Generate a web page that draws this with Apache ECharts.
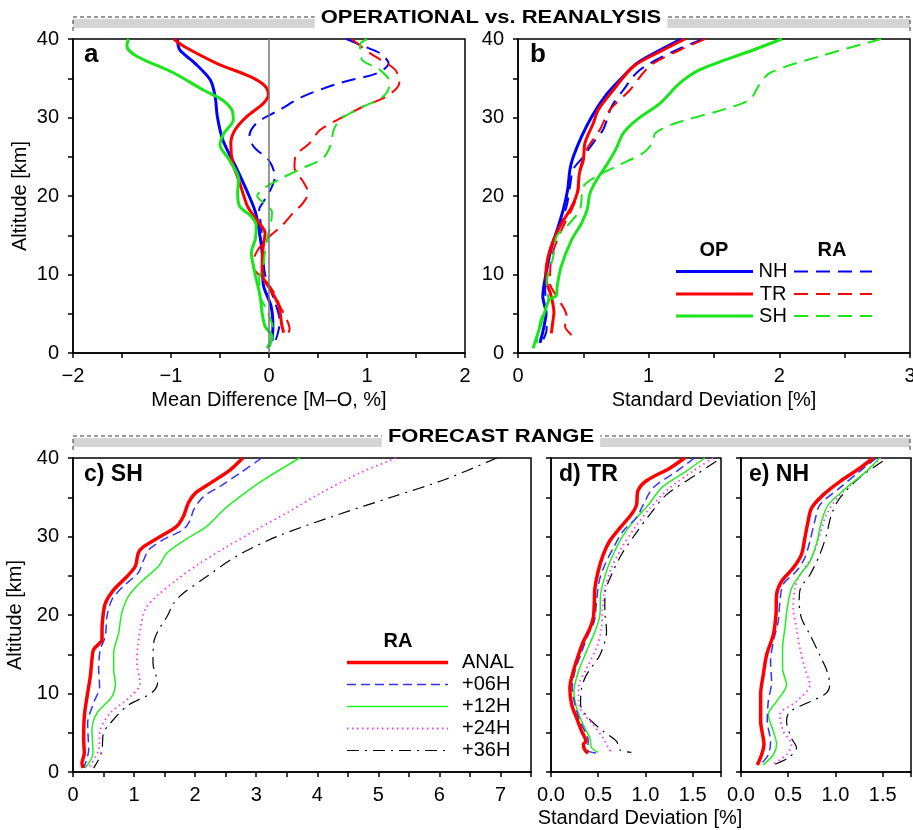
<!DOCTYPE html>
<html>
<head>
<meta charset="utf-8">
<script src="https://cdn.jsdelivr.net/npm/echarts@6/dist/echarts.min.js"></script>
<style>
html, body { margin: 0; padding: 0; background: #fff; }
#chart { width: 913px; height: 830px; }
</style>
</head>
<body>
<div id="chart"></div>
<script>
// each point is [value, altitude km]

// a) mean difference, operational (solid)
var mdOpNH = [[-0.935,40],[-0.91,38.6],[-0.755,36.9],[-0.6,34.8],[-0.55,32.7],[-0.527,30.1],[-0.47,27.1],[-0.33,23.5],[-0.22,20.5],[-0.14,18.0],[-0.1,15.5],[-0.07,12.8],[-0.065,10.2],[-0.055,8.5],[0.02,6],[0.04,3.4],[0.03,1.5]];
var mdOpTR = [[-0.97,40],[-0.874,39.1],[-0.534,36.9],[-0.19,35.2],[-0.04,34],[-0.007,32.9],[-0.058,31.8],[-0.228,30.1],[-0.347,28.4],[-0.39,26.7],[-0.37,24.2],[-0.3,21.7],[-0.22,18.7],[-0.13,17],[-0.04,15.3],[-0.06,13.5],[-0.07,11],[-0.06,9.6],[0.02,8],[0.1,6],[0.13,3.6],[0.15,2.6]];
var mdOpSH = [[-1.435,40],[-1.45,39.1],[-1.35,37.8],[-0.976,35.7],[-0.67,33.5],[-0.483,32.3],[-0.38,31],[-0.364,29.7],[-0.46,28],[-0.5,26.5],[-0.41,24.7],[-0.31,22.1],[-0.32,20.4],[-0.3,18.7],[-0.18,17.4],[-0.13,16.2],[-0.14,14.5],[-0.18,12.8],[-0.16,11.1],[-0.13,9.4],[-0.09,7.2],[-0.07,5.1],[-0.04,3.4],[0.03,2.1],[-0.02,0.6]];
// a) mean difference, reanalysis (dashed)
var mdRaNH = [[0.79,40],[0.96,39.1],[1.13,38.2],[1.22,36.9],[1.115,35.7],[0.725,34.4],[0.35,32.7],[0.112,31],[-0.126,29.3],[-0.2,27.6],[-0.15,26.2],[0.0,24.5],[0.06,22.5],[0.02,20.9],[-0.06,19.2],[-0.1,18.3],[-0.08,16],[-0.06,13],[-0.04,10],[0.06,6.5],[0.11,4],[0.09,2.5],[0.05,1]];
var mdRaTR = [[0.844,40],[1.03,38.2],[1.286,36.1],[1.33,34.4],[1.2,32.7],[0.963,31.4],[0.76,30.1],[0.52,28.4],[0.42,26.8],[0.27,25],[0.26,23.6],[0.35,21.8],[0.4,20.4],[0.34,19],[0.25,17.9],[0.13,16.2],[0.0,14.8],[-0.1,13.4],[-0.16,11.7],[-0.15,10.6],[-0.04,9.3],[0.06,7.5],[0.11,6],[0.18,4.3],[0.21,3.1],[0.2,2.6]];
var mdRaSH = [[1.0,40],[0.93,39.3],[0.946,37.4],[1.13,36.1],[1.235,34.4],[1.167,32.7],[0.894,31],[0.724,29.7],[0.66,28.4],[0.63,26.5],[0.55,24.8],[0.35,23.6],[0.12,22.2],[-0.06,20.9],[-0.12,20],[-0.04,19],[0.03,18],[0.02,16.5],[-0.01,15],[-0.04,13],[-0.06,11],[-0.1,9.5],[-0.1,7.6],[-0.02,5.4],[0.04,3],[0.01,0.8]];

// b) standard deviation, operational (solid)
var sdOpNH = [[1.25,40],[1.087,38.6],[0.908,36.9],[0.78,34.8],[0.666,32.7],[0.564,30.1],[0.487,27.6],[0.423,25],[0.398,23.4],[0.38,20.8],[0.347,18.3],[0.3,15.7],[0.258,13.6],[0.22,10.6],[0.19,7.2],[0.214,5.1],[0.194,3],[0.168,1.3]];
var sdOpTR = [[1.278,40],[1.112,38.6],[0.883,36.5],[0.73,33.5],[0.615,31],[0.577,29.3],[0.513,26.8],[0.5,24.6],[0.47,22.9],[0.455,20.5],[0.41,18.6],[0.32,16.1],[0.25,13.4],[0.215,10.5],[0.22,8.9],[0.25,7.5],[0.275,5.2],[0.265,3.8],[0.255,2.5]];
var sdOpSH = [[2.02,40],[1.8,38.6],[1.393,36.1],[1.24,34.4],[1.087,31.8],[0.908,29.7],[0.806,28],[0.75,26],[0.68,24],[0.6,22],[0.55,20.3],[0.53,18.3],[0.485,16.5],[0.41,14.4],[0.33,11],[0.3,8.5],[0.293,7.3],[0.24,6.8],[0.2,5],[0.16,2.9],[0.115,0.6]];
// b) standard deviation, reanalysis (dashed)
var sdRaNH = [[1.418,40],[1.214,38.6],[1.01,36.9],[0.908,35.7],[0.806,33.5],[0.717,31.4],[0.653,28.5],[0.577,26.8],[0.5,25],[0.423,23.4],[0.398,21.2],[0.372,18.7],[0.309,15.7],[0.232,12.3],[0.207,8.9],[0.214,5.5],[0.219,3],[0.181,1.3]];
var sdRaTR = [[1.43,40],[1.24,38.6],[1.036,36.9],[0.959,35.7],[0.857,33.5],[0.704,31],[0.628,28.5],[0.525,25.9],[0.474,23.4],[0.462,20.8],[0.423,18.7],[0.334,15.7],[0.258,12.3],[0.245,8.9],[0.296,7.2],[0.372,4.7],[0.36,3.4],[0.41,2.3]];
var sdRaSH = [[2.78,40],[2.31,37.8],[1.93,35.7],[1.84,34],[1.776,32.3],[1.57,31],[1.21,29.3],[1.05,28],[1.03,26.8],[0.96,25.5],[0.755,23.8],[0.6,22.5],[0.5,21.2],[0.474,18.3],[0.372,16.1],[0.296,14.9],[0.27,12.3],[0.22,8.9],[0.232,6.8],[0.173,4.2],[0.143,1.3]];

// c) SH forecast range
var shAnal = [[2.78,40],[2.575,38.5],[2.25,36.8],[2.0,35.5],[1.89,34.3],[1.81,32.6],[1.7,31.3],[1.43,30],[1.157,28.7],[1.07,27.9],[1.02,26.2],[0.884,24.9],[0.666,23.2],[0.53,21.5],[0.49,19.8],[0.475,18.1],[0.475,16.9],[0.338,15.6],[0.31,14.3],[0.284,12.2],[0.23,9.6],[0.185,7.1],[0.175,4.1],[0.185,2.4],[0.147,1.1],[0.164,0.5]];
var sh06 = [[3.09,40],[2.74,38.1],[2.41,36.4],[2.14,35.1],[1.975,33.4],[1.92,32.1],[1.81,30.9],[1.48,29.6],[1.24,28.3],[1.157,27],[1.07,25.4],[0.83,23.7],[0.64,22],[0.556,19.8],[0.53,17.3],[0.447,15.6],[0.42,13],[0.436,10.9],[0.338,8.8],[0.24,6.2],[0.256,2.8],[0.175,0.5]];
var sh12 = [[3.71,40],[3.12,37.2],[2.74,35.1],[2.466,33.4],[2.19,31.3],[1.84,29.6],[1.54,27.9],[1.4,26.2],[1.1,24.1],[0.91,22.4],[0.8,20.3],[0.747,17.7],[0.666,15.2],[0.666,13],[0.693,11.3],[0.638,9.6],[0.393,7.5],[0.311,5.4],[0.327,2.4],[0.2,0.5]];
var sh24 = [[5.29,40],[4.7,38.1],[4.05,35.5],[3.5,33],[3.01,30.9],[2.52,28.7],[2.08,26.6],[1.7,24.5],[1.37,22.4],[1.18,20.7],[1.1,18.1],[1.06,16],[1.047,13.9],[1.1,11.3],[0.94,9.6],[0.61,7.5],[0.447,5.4],[0.42,2.8],[0.256,0.5]];
var sh36 = [[6.94,40],[6.07,37.2],[5.25,35.1],[4.27,32.6],[3.34,30],[2.68,27.5],[2.19,24.9],[1.81,22.8],[1.65,21.5],[1.54,19.8],[1.4,18.1],[1.32,16.4],[1.31,13.9],[1.385,11.3],[1.29,10.1],[0.884,8.4],[0.61,6.2],[0.5,5],[0.475,2.8],[0.42,1.6],[0.338,0.5]];

// d) TR forecast range
var trAnal = [[1.415,40],[1.257,38.7],[1.01,37.1],[0.92,35.8],[0.905,34],[0.85,32.8],[0.73,31.1],[0.62,29.4],[0.553,27.7],[0.5,25.6],[0.465,23.4],[0.458,21.3],[0.447,19.6],[0.412,18.3],[0.342,16.6],[0.29,14.9],[0.236,12.8],[0.2,10.7],[0.218,8.6],[0.27,6.9],[0.324,5.2],[0.37,3.9],[0.342,3.5],[0.36,2.8],[0.394,2.4]];
var tr06 = [[1.52,40],[1.33,38.3],[1.08,36.2],[0.975,34],[0.905,32.4],[0.764,30.7],[0.658,28.5],[0.57,26.4],[0.51,24.3],[0.482,21.7],[0.458,19.2],[0.394,17.5],[0.313,14.9],[0.253,12.8],[0.225,10.7],[0.253,8.6],[0.306,6.5],[0.394,3.9],[0.384,2.8],[0.482,2.4]];
var tr12 = [[1.627,40],[1.43,38.3],[1.17,36.2],[1.03,34],[0.87,31.9],[0.746,29.8],[0.658,27.7],[0.588,25.6],[0.525,22.6],[0.518,20],[0.465,17.9],[0.377,15.4],[0.29,12.8],[0.243,10.3],[0.271,8.2],[0.342,6],[0.412,4.3],[0.43,3.1],[0.5,2.5]];
var tr24 = [[1.715,40],[1.5,38.3],[1.257,36.2],[1.046,33.6],[0.887,31.1],[0.746,28.5],[0.64,26],[0.57,23.4],[0.546,20.9],[0.535,18.3],[0.482,15.8],[0.377,13.2],[0.29,10.7],[0.306,8.2],[0.447,6],[0.553,4.3],[0.606,3.1],[0.64,2.5]];
var tr36 = [[1.75,39.6],[1.54,37.9],[1.22,35.3],[1.046,32.8],[0.887,30.2],[0.746,27.7],[0.64,25.1],[0.57,22.6],[0.57,20.5],[0.588,17.9],[0.518,14.9],[0.377,12.4],[0.324,10.7],[0.313,8.6],[0.394,6.9],[0.553,5.2],[0.694,3.9],[0.73,2.8],[0.85,2.5]];

// e) NH forecast range
var nhAnal = [[1.4,40],[1.257,38.7],[1.046,37],[0.87,35.3],[0.746,33.6],[0.71,31.9],[0.676,29.8],[0.64,27.7],[0.553,26],[0.43,24.3],[0.377,22.6],[0.37,20],[0.342,17.5],[0.271,14.9],[0.236,12.4],[0.208,9.9],[0.208,6.5],[0.243,3.5],[0.218,2.2],[0.173,0.9]];
var nh06 = [[1.433,40],[1.257,38.3],[1.046,36.2],[0.834,34],[0.78,31.9],[0.73,29.4],[0.676,27.3],[0.588,25.6],[0.447,23.9],[0.412,21.7],[0.394,19.2],[0.342,16.6],[0.313,14.1],[0.324,11.5],[0.289,9],[0.278,6.5],[0.313,3.9],[0.289,2.2],[0.2,0.9]];
var nh12 = [[1.468,40],[1.327,38.3],[1.116,36.2],[0.922,34],[0.852,31.9],[0.806,29.4],[0.73,26.8],[0.623,25.1],[0.535,23.4],[0.49,20.9],[0.465,18.3],[0.44,15.8],[0.44,13.2],[0.482,11.1],[0.377,9],[0.289,7.3],[0.342,5.2],[0.377,3.5],[0.342,2.2],[0.236,0.9]];
var nh24 = [[1.486,40],[1.29,37.9],[1.046,35.3],[0.905,32.8],[0.834,30.2],[0.764,27.7],[0.623,25.1],[0.57,23.4],[0.553,20.9],[0.588,18.3],[0.623,15.8],[0.676,13.2],[0.729,11.1],[0.588,9],[0.412,7.3],[0.447,5.2],[0.535,3.5],[0.482,2.2],[0.324,0.9]];
var nh36 = [[1.5,39.6],[1.257,37.5],[1.046,34.9],[0.958,32.8],[0.905,30.2],[0.834,27.7],[0.729,25.1],[0.63,23.4],[0.616,21.7],[0.64,19.6],[0.729,17.5],[0.834,14.9],[0.912,12.8],[0.94,11.1],[0.887,9.9],[0.518,7.7],[0.482,6.5],[0.535,4.3],[0.588,3.1],[0.5,1.8],[0.342,0.9]];

var regionNames = ['NH', 'TR', 'SH'];
var rangeNames = ['ANAL', '+06H', '+12H', '+24H', '+36H'];

var FONT = '"Liberation Sans", Arial, sans-serif';
var BLUE = '#0000ff', RED = '#ff0000', GREEN = '#19e619';
var fcColors = ['#ff0000', '#3333ff', '#22ee22', '#ff33ff', '#000000'];
var fcWidths = [3.5, 1.5, 1.5, 1.8, 1.2];
var fcDash = ['solid', [9, 5], 'solid', [1.5, 3.5], [12, 6, 2, 6]];

var grids = [
	{left: 73, top: 39, width: 392, height: 314},
	{left: 518, top: 39, width: 392, height: 314},
	{left: 73, top: 458, width: 458, height: 314},
	{left: 551, top: 458, width: 170, height: 314},
	{left: 741, top: 458, width: 170, height: 314}
];

function intLabel(v) {
	if (Math.abs(v - Math.round(v)) > 1e-9) return '';
	return v < 0 ? '\u2212' + (-v) : '' + v;
}
function halfLabel(v) {
	if (v > 1.6) return '';
	return v.toFixed(1);
}

function xAxis(i, min, max, fmt, name) {
	return {
		gridIndex: i, type: 'value', min: min, max: max, interval: 0.5,
		axisLine: {show: true, onZero: false, lineStyle: {color: '#000', width: 1.5}},
		axisTick: {show: true, length: 5, lineStyle: {color: '#000', width: 1.5}},
		axisLabel: {margin: 13, color: '#000', fontSize: 20, fontFamily: FONT, formatter: fmt},
		splitLine: {show: false},
		name: name || '', nameLocation: 'middle', nameGap: 37,
		nameTextStyle: {color: '#000', fontSize: 20, fontFamily: FONT}
	};
}

function yAxis(i, showLabel) {
	return {
		gridIndex: i, type: 'value', min: 0, max: 40, interval: 5,
		axisLine: {show: true, onZero: false, lineStyle: {color: '#000', width: 1.5}},
		axisTick: {show: true, length: 5, lineStyle: {color: '#000', width: 1.5}},
		axisLabel: {show: showLabel, margin: 14, color: '#000', fontSize: 20, fontFamily: FONT,
			formatter: function (v) { return v % 10 === 0 ? '' + v : ''; }},
		splitLine: {show: false},
		name: (i === 0 || i === 2) ? 'Altitude [km]' : '', nameLocation: 'middle', nameGap: 43,
		nameTextStyle: {color: '#000', fontSize: 20, fontFamily: FONT}
	};
}

function profile(idx, data, color, width, dash) {
	return {
		type: 'line', xAxisIndex: idx, yAxisIndex: idx, data: data,
		showSymbol: false, symbol: 'none', smooth: 0.3, silent: true,
		lineStyle: {color: color, width: width, type: dash}
	};
}

var series = [];
// panel a
var opA = [mdOpNH, mdOpTR, mdOpSH], raA = [mdRaNH, mdRaTR, mdRaSH];
var opB = [sdOpNH, sdOpTR, sdOpSH], raB = [sdRaNH, sdRaTR, sdRaSH];
var regColors = [BLUE, RED, GREEN];
for (var r = 0; r < 3; r++) {
	series.push(profile(0, raA[r], regColors[r], 2, [14, 8]));
	series.push(profile(0, opA[r], regColors[r], 3, 'solid'));
	series.push(profile(1, raB[r], regColors[r], 2, [14, 8]));
	series.push(profile(1, opB[r], regColors[r], 3, 'solid'));
}
// zero line in panel a
series[0].markLine = {
	silent: true, symbol: 'none', label: {show: false},
	lineStyle: {color: '#777', width: 1.5, type: 'solid'},
	data: [{xAxis: 0}]
};

var fcPanels = [[shAnal, sh06, sh12, sh24, sh36], [trAnal, tr06, tr12, tr24, tr36], [nhAnal, nh06, nh12, nh24, nh36]];
for (var p = 0; p < 3; p++) {
	for (var k = 4; k >= 0; k--) {
		series.push(profile(p + 2, fcPanels[p][k], fcColors[k], fcWidths[k], fcDash[k]));
	}
}

function txt(x, y, s, size, bold, align, extra) {
	var el = {type: 'text', x: x, y: y, z: 100, silent: true, style: {
		text: s, x: 0, y: 0, fill: '#000', fontSize: size, fontWeight: bold ? 'bold' : 'normal',
		fontFamily: FONT, align: align || 'left', verticalAlign: 'middle',
		textAlign: align || 'left', textVerticalAlign: 'middle'
	}};
	if (extra) {
		for (var key in extra) el[key] = extra[key];
	}
	return el;
}
function seg(x1, y1, x2, y2, color, width, dash) {
	return {type: 'line', z: 100, silent: true, shape: {x1: x1, y1: y1, x2: x2, y2: y2},
		style: {stroke: color, lineWidth: width, lineDash: dash || null}};
}
function header(top, label) {
	var g = [];
	g.push({type: 'rect', z: 90, silent: true, shape: {x: 73, y: top - 20, width: 837, height: 9}, style: {fill: '#d4d4d4'}});
	g.push({type: 'polyline', z: 91, silent: true, shape: {points: [[73, top - 8], [73, top - 22], [910, top - 22], [910, top - 8]]},
		style: {stroke: '#333', lineWidth: 1, fill: null, lineDash: [4, 3]}});
	var t = txt(491, top - 21, label, 18, true, 'center', {scaleX: 1.22});
	t.style.backgroundColor = '#fff';
	t.style.padding = [1, 5];
	g.push(t);
	return g;
}

var graphics = [];
graphics = graphics.concat(header(39, 'OPERATIONAL vs. REANALYSIS'));
graphics = graphics.concat(header(458, 'FORECAST RANGE'));
graphics.push(txt(84, 55, 'a', 26, true));
graphics.push(txt(530, 55, 'b', 26, true));
graphics.push(txt(84, 475, 'c) SH', 23, true));
graphics.push(txt(559, 475, 'd) TR', 23, true));
graphics.push(txt(749, 475, 'e) NH', 23, true));
graphics.push(txt(640, 818, 'Standard Deviation [%]', 20, false, 'center'));

// legend b
graphics.push(txt(714, 250, 'OP', 20, true, 'center'));
graphics.push(txt(832, 250, 'RA', 20, true, 'center'));
var rowY = [271.5, 294, 316];
for (var i = 0; i < 3; i++) {
	graphics.push(seg(676, rowY[i], 753, rowY[i], regColors[i], 3));
	graphics.push(txt(773, rowY[i], regionNames[i], 20, false, 'center'));
	graphics.push(seg(794, rowY[i], 872, rowY[i], regColors[i], 2, [14, 8]));
}

// legend c
graphics.push(txt(398, 641, 'RA', 20, true, 'center'));
var fcRowY = [662.5, 684.5, 706.5, 728.5, 750.5];
for (var j = 0; j < 5; j++) {
	var d = fcDash[j] === 'solid' ? null : fcDash[j];
	graphics.push(seg(347, fcRowY[j], 448, fcRowY[j], fcColors[j], fcWidths[j], d));
	graphics.push(txt(462, fcRowY[j], rangeNames[j], 20, false, 'left'));
}

var option = {
	animation: false,
	backgroundColor: '#fff',
	grid: grids.map(function (g) {
		return {left: g.left, top: g.top, width: g.width, height: g.height,
			show: true, borderColor: '#000', borderWidth: 1.5, backgroundColor: 'transparent',
			containLabel: false, outerBoundsMode: 'none'};
	}),
	xAxis: [
		xAxis(0, -2, 2, intLabel, 'Mean Difference [M\u2013O, %]'),
		xAxis(1, 0, 3, intLabel, 'Standard Deviation [%]'),
		xAxis(2, 0, 7.5, intLabel),
		xAxis(3, 0, 1.8, halfLabel),
		xAxis(4, 0, 1.8, halfLabel)
	],
	yAxis: [yAxis(0, true), yAxis(1, true), yAxis(2, true), yAxis(3, false), yAxis(4, false)],
	series: series,
	graphic: graphics
};

var myChart = echarts.init(document.getElementById('chart'));
myChart.setOption(option);
</script>
</body>
</html>
